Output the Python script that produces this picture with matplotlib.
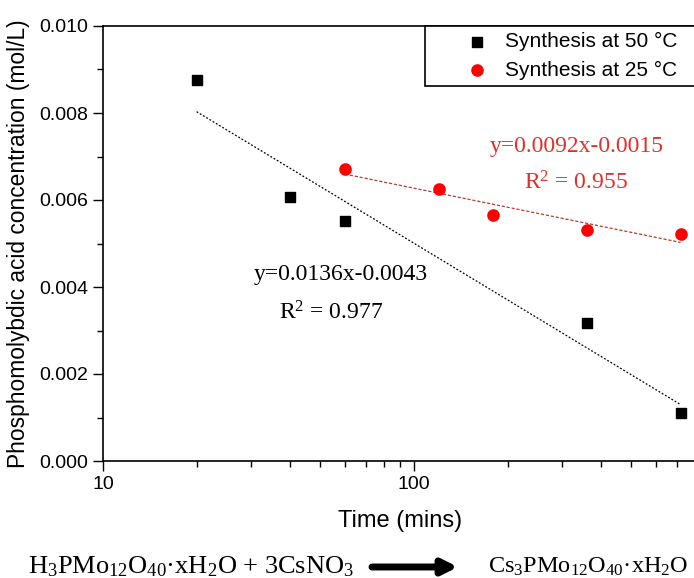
import numpy as np
import matplotlib
matplotlib.use('Agg')
import matplotlib.pyplot as plt
from matplotlib.patches import Rectangle
from matplotlib.ticker import FixedLocator, NullFormatter, MultipleLocator

plt.rcParams['font.family'] = ['Liberation Sans', 'DejaVu Sans']
plt.rcParams['mathtext.fontset'] = 'custom'
plt.rcParams['mathtext.rm'] = 'Liberation Serif'
plt.rcParams['mathtext.it'] = 'Liberation Serif:italic'

# data
t_50 = [20, 40, 60, 360, 720]
c_50 = [0.00876, 0.00607, 0.00552, 0.00317, 0.00110]
t_25 = [60, 120, 180, 360, 720]
c_25 = [0.00671, 0.00625, 0.00565, 0.00531, 0.00522]

eq_50 = ['y=0.0136x-0.0043', 'R$^2$ = 0.977']
eq_25 = ['y=0.0092x-0.0015', 'R$^2$ = 0.955']

fig = plt.figure(figsize=(6.94, 5.78), dpi=100)
ax = fig.add_axes([103 / 694, 1 - 461 / 578, 600 / 694, 435 / 578])

ax.scatter(t_50, c_50, marker='s', s=55, color='black', label='Synthesis at 50 \u00b0C', zorder=3)
ax.scatter(t_25, c_25, marker='o', s=65, color='red', label='Synthesis at 25 \u00b0C', zorder=3)

# log-linear trend lines
for t, c, col, ls in [(t_50, c_50, 'black', (0, (1.5, 1.5))), (t_25, c_25, '#b83a30', (0, (2.5, 1.5)))]:
    p = np.polyfit(np.log10(t), c, 1)
    xx = np.array([t[0], t[-1]])
    ax.plot(xx, np.polyval(p, np.log10(xx)), color=col, ls=ls, lw=0.9, zorder=2)

ax.set_xscale('log')
ax.set_xlim(10, 850)
ax.set_ylim(0, 0.010)
ax.xaxis.set_major_locator(FixedLocator([10, 100]))
ax.xaxis.set_minor_locator(FixedLocator([20, 30, 40, 50, 60, 70, 80, 90, 200, 300, 400, 500, 600, 700]))
ax.xaxis.set_minor_formatter(NullFormatter())
ax.set_xticklabels(['10', '100'])
ax.yaxis.set_major_locator(MultipleLocator(0.002))
ax.yaxis.set_minor_locator(MultipleLocator(0.001))
ax.yaxis.set_major_formatter(plt.FuncFormatter(lambda v, pos: '%.3f' % v))
ax.tick_params(which='major', direction='out', length=7, width=1, labelsize=14, colors='black')
ax.tick_params(which='minor', direction='out', length=4, width=1)
ax.tick_params(axis='x', pad=4)
for s in ax.spines.values():
    s.set_linewidth(1.2)

ax.set_xlabel('Time (mins)', fontsize=17)
ax.xaxis.set_label_coords(0.495, -0.112)
ax.set_ylabel('Phosphomolybdic acid concentration (mol/L)', fontsize=16.4)
ax.yaxis.set_label_coords(-0.121, 0.5)

ser = dict(family='Liberation Serif', fontsize=17, ha='center', va='center')
ax.text(58, 0.00428, eq_50[0], **ser)
ax.text(54, 0.00340, eq_50[1], **ser)
ax.text(334, 0.00722, eq_25[0], color='#e0302a', **ser)
ax.text(331, 0.00639, eq_25[1], color='#e0302a', **ser)

# legend without its own frame, box drawn separately
leg = ax.legend(loc='upper left', bbox_to_anchor=(462 / 694, 1 - 32 / 578), bbox_transform=fig.transFigure,
                borderaxespad=0, fontsize=15, frameon=False,
                handletextpad=0.65, borderpad=0, labelspacing=0.45, handlelength=1.4)
ax.add_patch(Rectangle((425 / 694, 1 - 86 / 578), 290 / 694, 60 / 578, transform=fig.transFigure,
                       facecolor='white', edgecolor='black', lw=1.2, zorder=4, clip_on=False))
leg.set_zorder(5)

fig.text(28 / 694, 1 - 567 / 578, 'H$_3$PMo$_{12}$O$_{40}$\u00b7xH$_2$O + 3CsNO$_3$',
         family='Liberation Serif', fontsize=19, ha='left', va='center')
fig.text(488 / 694, 1 - 567 / 578, 'Cs$_3$PMo$_{12}$O$_{40}$\u00b7xH$_2$O',
         family='Liberation Serif', fontsize=17.5, ha='left', va='center')
ax.annotate('', xy=(458 / 694, 1 - 567 / 578), xytext=(372 / 694, 1 - 567 / 578),
            xycoords='figure fraction', textcoords='figure fraction',
            arrowprops=dict(arrowstyle='-|>', lw=5, mutation_scale=22, color='black',
                            shrinkA=0, shrinkB=0))

fig.savefig('out.png', dpi=100)
